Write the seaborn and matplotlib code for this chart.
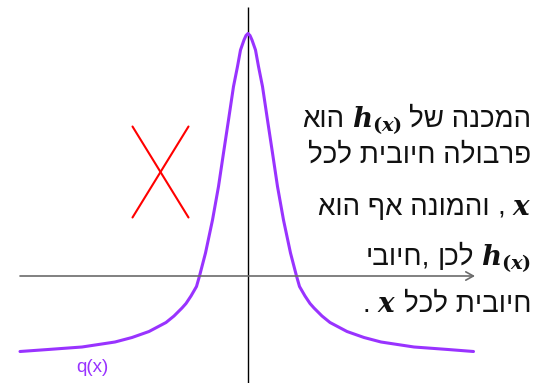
import matplotlib
matplotlib.use("Agg")
import matplotlib.pyplot as plt
import seaborn as sns
import pandas as pd

sns.set_theme(style="white")
plt.rcParams["font.family"] = ["Liberation Sans", "DejaVu Sans"]
plt.rcParams["mathtext.fontset"] = "custom"
plt.rcParams["mathtext.it"] = "DejaVu Serif:italic:bold"
plt.rcParams["mathtext.rm"] = "DejaVu Serif:bold"
plt.rcParams["mathtext.bf"] = "DejaVu Serif:italic:bold"

# q(x): bell-shaped curve that dips below the x-axis on both tails
curve_x = [-4.56, -4.00, -3.32, -2.66, -2.32, -1.98, -1.64, -1.48, -1.32, -1.24,
           -1.14, -1.03, -0.97, -0.85, -0.71, -0.59, -0.49, -0.39, -0.29, -0.21,
           -0.15, -0.08, -0.04, 0.00, 0.04, 0.08, 0.15, 0.21, 0.29, 0.39,
           0.49, 0.59, 0.71, 0.85, 0.97, 1.03, 1.14, 1.24, 1.32, 1.48,
           1.64, 1.98, 2.32, 2.66, 3.32, 4.00, 4.51]
curve_y = [-1.51, -1.47, -1.42, -1.32, -1.23, -1.11, -0.93, -0.80, -0.64, -0.55,
           -0.40, -0.21, 0.00, 0.46, 1.12, 1.79, 2.46, 3.12, 3.79, 4.19,
           4.52, 4.72, 4.81, 4.85, 4.81, 4.72, 4.52, 4.19, 3.79, 3.12,
           2.46, 1.79, 1.12, 0.46, 0.00, -0.21, -0.40, -0.55, -0.64, -0.80,
           -0.93, -1.11, -1.23, -1.32, -1.42, -1.47, -1.51]
curve_label = "q(x)"

# coordinate axes
x_axis_span = [-4.56, 4.54]
y_axis_span = [-2.14, 5.38]

# red cross mark
cross_x = [-2.31, -1.19]
cross_y = [2.99, 1.17]

# explanation text, lines listed right-to-left as (text, kind) runs
text_lines = [
    [("המכנה של", "he"), ("h(x)", "m"), ("הוא", "he")],
    [("פרבולה חיובית לכל", "he")],
    [("x", "m"), (",", "p"), ("והמונה אף הוא", "he")],
    [("h(x)", "m"), ("לכן", "he"), ("חיובי,", "he_punct")],
    [("חיובית לכל", "he"), ("x", "m"), (".", "p")],
]
baselines_px = [127, 163, 215, 265, 312]

W, H = 546, 383
fig = plt.figure(figsize=(W / 100, H / 100), dpi=100)
fig.patch.set_facecolor("white")
ax = fig.add_axes([0, 0, 1, 1])
ax.set_xlim(-4.96, 5.96)
ax.set_ylim(-2.14, 5.52)
ax.axis("off")

# axes lines
ax.annotate("", xy=(x_axis_span[1], 0), xytext=(x_axis_span[0], 0),
            arrowprops=dict(arrowstyle="->,head_length=0.45,head_width=0.25",
                            color="#6b6b6b", lw=1.2, shrinkA=0, shrinkB=0))
ax.plot([0, 0], y_axis_span, color="black", lw=1.0, solid_capstyle="butt")

df = pd.DataFrame({"x": curve_x, "y": curve_y})
sns.lineplot(data=df, x="x", y="y", ax=ax, color="#9933ff", lw=2.2,
             sort=False, estimator=None)
ax.text(-3.11, -1.82, curve_label, color="#9933ff", fontsize=13.5,
        ha="center", va="center")

ax.plot(cross_x, cross_y, color="red", lw=1.5)
ax.plot(cross_x, cross_y[::-1], color="red", lw=1.5)


def visual(txt, kind):
    """Return the left-to-right glyph order for a run of text."""
    if kind == "he":
        return txt[::-1]
    if kind == "he_punct":
        # trailing punctuation stays on the reading (right) side of the word
        return txt[:-1][::-1] + txt[-1]
    if kind == "m":
        return r"$h_{(x)}$" if txt == "h(x)" else r"$x$"
    return txt


# right-to-left text layout
renderer = fig.canvas.get_renderer()
right_px = 531
space_px = 7
for runs, base in zip(text_lines, baselines_px):
    x = right_px
    for i, (txt, kind) in enumerate(runs):
        t = fig.text(x / W, 1 - base / H, visual(txt, kind), ha="right",
                     va="baseline", color="#111111", fontsize=20)
        bb = t.get_window_extent(renderer)
        x = bb.x0 - space_px

fig.savefig("out.png", dpi=100, facecolor="white")
